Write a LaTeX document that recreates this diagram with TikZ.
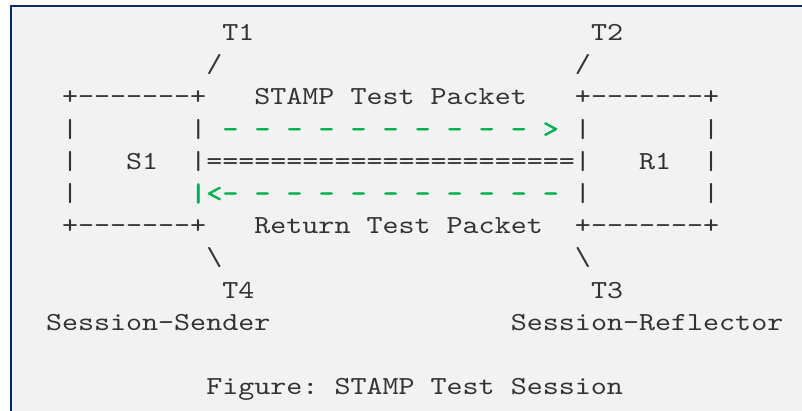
\documentclass[tikz,border=0pt]{standalone}
\usepackage{fontspec}
\usepackage{graphicx}
\setmonofont{lmmono10-regular.otf}
\newfontfamily\greenmono{lmmono10-regular.otf}[FakeBold=1.6]
\definecolor{txt}{HTML}{333333}
\definecolor{grn}{HTML}{00B050}
\definecolor{navy}{HTML}{0A2766}
\definecolor{bg}{HTML}{F2F2F2}
\frenchspacing
\tikzset{
  asc/.style={inner sep=0pt, outer sep=0pt, anchor=base west,
    font=\fontsize{26}{32}\selectfont\ttfamily, text=txt},
  ascg/.style={asc, font=\fontsize{26}{32}\selectfont\greenmono, text=grn}
}
\newcommand\sx[1]{\scalebox{1.174}[1]{#1}}
\newcommand\cx[1]{46+16.03*#1}
\newcommand\ry[1]{40.5+32.2*#1}
\begin{document}
\begin{tikzpicture}[x=1pt,y=-1pt]
\useasboundingbox (0,0) rectangle (802,411);
\fill[white] (0,0) rectangle (802,411);
\fill[bg] (12,7.3) rectangle (802,411);
\fill[navy] (10,5.3) rectangle (802,7.3);
\fill[navy] (10,5.3) rectangle (12,411);
% row 0
\node[asc] (t1) at ({\cx{11}},{\ry{0}}) {\sx{T1}};
\node[asc] (t2) at ({\cx{34}},{\ry{0}}) {\sx{T2}};
% row 1
\node[asc] (sl1) at ({\cx{10}},{\ry{1}}) {\sx{/}};
\node[asc] (sl2) at ({\cx{33}},{\ry{1}}) {\sx{/}};
% row 2
\node[asc] (lt) at ({\cx{1}},{\ry{2}}) {\sx{+-------+}};
\node[asc] (stamp) at ({\cx{13}},{\ry{2}}) {\sx{STAMP Test Packet}};
\node[asc] (rt) at ({\cx{33}},{\ry{2}}) {\sx{+-------+}};
% row 3
\node[asc] (l3a) at ({\cx{1}},{\ry{3}}) {\sx{|}};
\node[asc] (l3b) at ({\cx{9}},{\ry{3}}) {\sx{|}};
\node[ascg] (fwd) at ({\cx{11}},{\ry{3}}) {\sx{- - - - - - - - - - >}};
\node[asc] (r3a) at ({\cx{33}},{\ry{3}}) {\sx{|}};
\node[asc] (r3b) at ({\cx{41}},{\ry{3}}) {\sx{|}};
% row 4
\node[asc] (l4a) at ({\cx{1}},{\ry{4}}) {\sx{|}};
\node[asc] (s1) at ({\cx{5}},{\ry{4}}) {\sx{S1}};
\node[asc] (link) at ({\cx{9}},{\ry{4}}) {\sx{|=======================|}};
\node[asc] (r1) at ({\cx{37}},{\ry{4}}) {\sx{R1}};
\node[asc] (r4b) at ({\cx{41}},{\ry{4}}) {\sx{|}};
% row 5
\node[asc] (l5a) at ({\cx{1}},{\ry{5}}) {\sx{|}};
\node[ascg] (bwd) at ({\cx{9}},{\ry{5}}) {\sx{|<- - - - - - - - - - -}};
\node[asc] (r5a) at ({\cx{33}},{\ry{5}}) {\sx{|}};
\node[asc] (r5b) at ({\cx{41}},{\ry{5}}) {\sx{|}};
% row 6
\node[asc] (lb) at ({\cx{1}},{\ry{6}}) {\sx{+-------+}};
\node[asc] (ret) at ({\cx{13}},{\ry{6}}) {\sx{Return Test Packet}};
\node[asc] (rb) at ({\cx{33}},{\ry{6}}) {\sx{+-------+}};
% row 7
\node[asc] (bs1) at ({\cx{10}},{\ry{7}}) {\sx{\textbackslash}};
\node[asc] (bs2) at ({\cx{33}},{\ry{7}}) {\sx{\textbackslash}};
% row 8
\node[asc] (t4) at ({\cx{11}},{\ry{8}}) {\sx{T4}};
\node[asc] (t3) at ({\cx{34}},{\ry{8}}) {\sx{T3}};
% row 9
\node[asc] (snd) at ({\cx{0}},{\ry{9}}) {\sx{Session-Sender}};
\node[asc] (rfl) at ({\cx{29}},{\ry{9}}) {\sx{Session-Reflector}};
% row 11
\node[asc] (cap) at ({\cx{10}},{\ry{11}}) {\sx{Figure: STAMP Test Session}};
\end{tikzpicture}
\end{document}
